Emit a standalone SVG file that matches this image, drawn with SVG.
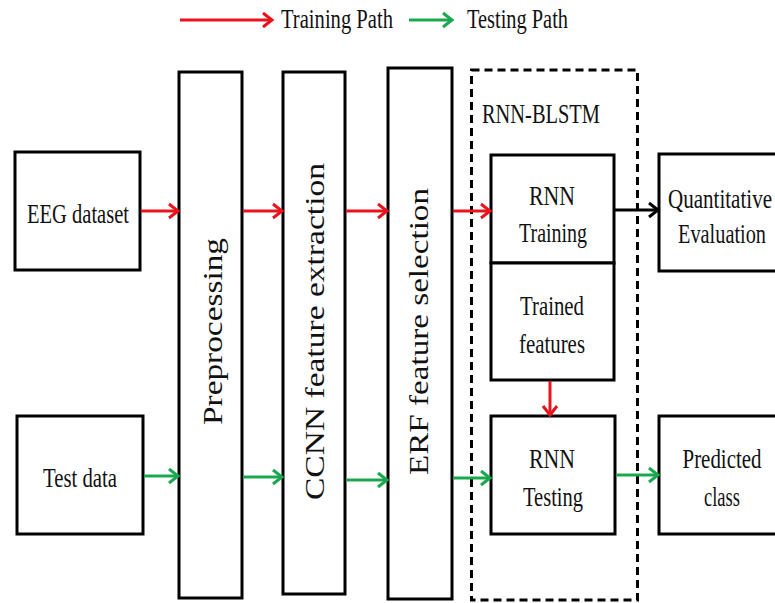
<svg xmlns="http://www.w3.org/2000/svg" width="775" height="603" viewBox="0 0 775 603">
<style>
.box{fill:#fff;stroke:#000;stroke-width:3}
.open{fill:none;stroke:#000;stroke-width:3}
.t{font-family:"Liberation Serif","Times New Roman",serif;font-size:27px;fill:#111}
.c{text-anchor:middle}
.r{stroke:#e8141b;stroke-width:3;fill:none}
.g{stroke:#1aa84f;stroke-width:3;fill:none}
.k{stroke:#000;stroke-width:3;fill:none}
</style>
<defs>
<marker id="ar" markerUnits="userSpaceOnUse" markerWidth="14" markerHeight="18" refX="11" refY="9" orient="auto" viewBox="0 0 14 18"><polyline points="2,2 11,9 2,16" fill="none" stroke="#e8141b" stroke-width="3"/></marker>
<marker id="ag" markerUnits="userSpaceOnUse" markerWidth="14" markerHeight="18" refX="11" refY="9" orient="auto" viewBox="0 0 14 18"><polyline points="2,2 11,9 2,16" fill="none" stroke="#1aa84f" stroke-width="3"/></marker>
<marker id="ak" markerUnits="userSpaceOnUse" markerWidth="14" markerHeight="18" refX="11" refY="9" orient="auto" viewBox="0 0 14 18"><polyline points="2,2 11,9 2,16" fill="none" stroke="#000" stroke-width="3"/></marker>
</defs>
<g id="legend">
<line class="r" x1="180" y1="20" x2="272" y2="20" marker-end="url(#ar)"/>
<text class="t" x="281" y="28" textLength="112" lengthAdjust="spacingAndGlyphs">Training Path</text>
<line class="g" x1="409" y1="20" x2="452" y2="20" marker-end="url(#ag)"/>
<text class="t" x="467" y="28" textLength="101" lengthAdjust="spacingAndGlyphs">Testing Path</text>
</g>
<g id="rnn-blstm">
<rect x="471.5" y="70" width="166" height="530" fill="none" stroke="#000" stroke-width="3" stroke-dasharray="8,5"/>
<text class="t" x="482" y="123" textLength="118" lengthAdjust="spacingAndGlyphs">RNN-BLSTM</text>
</g>
<g id="eeg-dataset">
<rect class="box" x="15" y="152" width="125" height="118"/>
<text class="t" x="27" y="223" textLength="102" lengthAdjust="spacingAndGlyphs">EEG dataset</text>
</g>
<g id="test-data">
<rect class="box" x="17" y="416" width="126" height="118"/>
<text class="t" x="43" y="487" textLength="74" lengthAdjust="spacingAndGlyphs">Test data</text>
</g>
<g id="preprocessing">
<rect class="box" x="179" y="72" width="63" height="526"/>
<text class="t" transform="translate(222,425) rotate(-90)" x="0" y="0" textLength="187" lengthAdjust="spacingAndGlyphs">Preprocessing</text>
</g>
<g id="ccnn">
<rect class="box" x="283" y="72" width="62" height="522"/>
<text class="t" transform="translate(324,500) rotate(-90)" x="0" y="0" textLength="337" lengthAdjust="spacingAndGlyphs">CCNN feature extraction</text>
</g>
<g id="erf">
<rect class="box" x="388" y="68" width="64" height="531"/>
<text class="t" transform="translate(428,475) rotate(-90)" x="0" y="0" textLength="287" lengthAdjust="spacingAndGlyphs">ERF feature selection</text>
</g>
<g id="rnn-training">
<rect class="box" x="491" y="155" width="123" height="108"/>
<text class="t c" x="552" y="205" textLength="46" lengthAdjust="spacingAndGlyphs">RNN</text>
<text class="t c" x="553" y="242" textLength="68" lengthAdjust="spacingAndGlyphs">Training</text>
</g>
<g id="trained-features">
<rect class="box" x="491" y="263" width="123" height="117"/>
<text class="t c" x="552" y="315" textLength="64" lengthAdjust="spacingAndGlyphs">Trained</text>
<text class="t c" x="552" y="353" textLength="66" lengthAdjust="spacingAndGlyphs">features</text>
</g>
<g id="rnn-testing">
<rect class="box" x="491" y="416" width="124" height="118"/>
<text class="t c" x="552" y="468" textLength="46" lengthAdjust="spacingAndGlyphs">RNN</text>
<text class="t c" x="553" y="506" textLength="60" lengthAdjust="spacingAndGlyphs">Testing</text>
</g>
<g id="quantitative-evaluation">
<path class="open" d="M775,154 H659 V271 H775"/>
<text class="t c" x="720" y="208" textLength="104" lengthAdjust="spacingAndGlyphs">Quantitative</text>
<text class="t c" x="722" y="243" textLength="88" lengthAdjust="spacingAndGlyphs">Evaluation</text>
</g>
<g id="predicted-class">
<path class="open" d="M775,416 H659 V534 H775"/>
<text class="t c" x="722" y="468" textLength="79" lengthAdjust="spacingAndGlyphs">Predicted</text>
<text class="t c" x="722" y="506" textLength="36" lengthAdjust="spacingAndGlyphs">class</text>
</g>
<g id="connectors">
<line class="r" x1="141" y1="211" x2="178" y2="211" marker-end="url(#ar)"/>
<line class="r" x1="243" y1="211" x2="282" y2="211" marker-end="url(#ar)"/>
<line class="r" x1="346" y1="211" x2="387" y2="211" marker-end="url(#ar)"/>
<line class="r" x1="453" y1="211" x2="490" y2="211" marker-end="url(#ar)"/>
<line class="k" x1="615" y1="210" x2="658" y2="210" marker-end="url(#ak)"/>
<line class="r" x1="550" y1="381" x2="550" y2="415" marker-end="url(#ar)"/>
<line class="g" x1="144" y1="476" x2="178" y2="476" marker-end="url(#ag)"/>
<line class="g" x1="243" y1="477" x2="282" y2="477" marker-end="url(#ag)"/>
<line class="g" x1="346" y1="480" x2="387" y2="480" marker-end="url(#ag)"/>
<line class="g" x1="453" y1="478" x2="490" y2="478" marker-end="url(#ag)"/>
<line class="g" x1="616" y1="475" x2="658" y2="475" marker-end="url(#ag)"/>
</g>
</svg>
